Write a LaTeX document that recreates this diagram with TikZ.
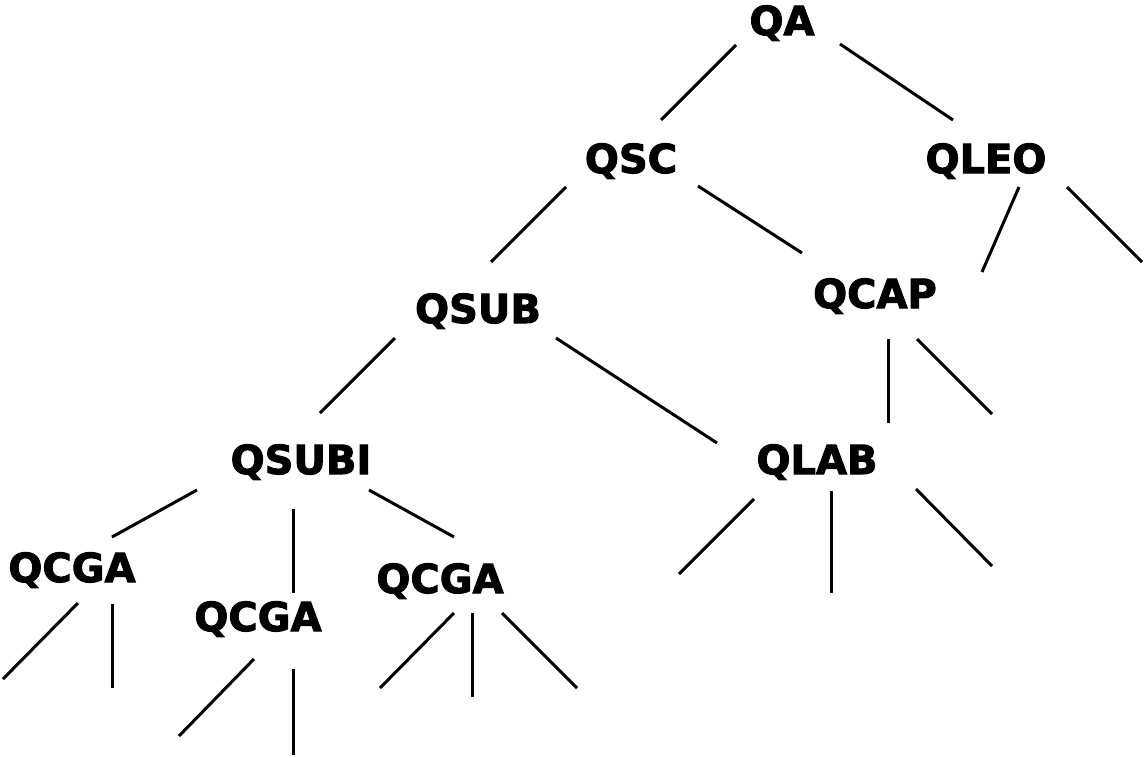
\documentclass[tikz,border=0pt]{standalone}
\usepackage{fontspec}
\setmainfont{DejaVu Sans}
\newfontfamily\heavyfont{DejaVu Sans Bold}[FakeBold=2.5]
\usetikzlibrary{calc}
\begin{document}
\begin{tikzpicture}[x=1pt,y=-1pt,
  lbl/.style={anchor=base, inner sep=0pt, font=\fontsize{40}{48}\heavyfont},
  edge/.style={line width=3pt}]
\useasboundingbox (0,0) rectangle (1144,758);
\fill[white] (0,0) rectangle (1144,758);
% nodes
\node[lbl] (QA)    at (782,35)  {QA};
\node[lbl] (QSC)   at (631,173) {QSC};
\node[lbl] (QLEO)  at (986,173) {QLEO};
\node[lbl] (QSUB)  at (478,323) {QSUB};
\node[lbl] (QCAP)  at (875,308) {QCAP};
\node[lbl] (QSUBI) at (301,474) {QSUBI};
\node[lbl] (QLAB)  at (817,474) {QLAB};
\node[lbl] (QCGAa) at (72,582)  {QCGA};
\node[lbl] (QCGAb) at (258,631) {QCGA};
\node[lbl] (QCGAc) at (440,593) {QCGA};
% free ends
\coordinate (f1) at (1142,262);
\coordinate (f2) at (888,423);
\coordinate (f3) at (992,414);
\coordinate (f4) at (679,574);
\coordinate (f5) at (831,593);
\coordinate (f6) at (992,566);
\coordinate (f7) at (3,679);
\coordinate (f8) at (112,688);
\coordinate (f9) at (179,736);
\coordinate (f10) at (293,755);
\coordinate (f11) at (380,688);
\coordinate (f12) at (472,697);
\coordinate (f13) at (577,688);
% connectors
\draw[edge] ($(QA.base)+(-46,10)$) -- ($(QSC.base)+(30,-53)$);
\draw[edge] ($(QA.base)+(58,9)$) -- ($(QLEO.base)+(-33,-53)$);
\draw[edge] ($(QSC.base)+(-65,14)$) -- ($(QSUB.base)+(13,-61)$);
\draw[edge] ($(QSC.base)+(67,13)$) -- ($(QCAP.base)+(-73,-55)$);
\draw[edge] ($(QLEO.base)+(33,14)$) -- ($(QCAP.base)+(107,-36)$);
\draw[edge] ($(QLEO.base)+(81,14)$) -- (f1);
\draw[edge] ($(QSUB.base)+(-83,15)$) -- ($(QSUBI.base)+(19,-61)$);
\draw[edge] ($(QSUB.base)+(78,15)$) -- ($(QLAB.base)+(-100,-31)$);
\draw[edge] ($(QCAP.base)+(13,31)$) -- (f2);
\draw[edge] ($(QCAP.base)+(42,31)$) -- (f3);
\draw[edge] ($(QLAB.base)+(-63,25)$) -- (f4);
\draw[edge] ($(QLAB.base)+(14,17)$) -- (f5);
\draw[edge] ($(QLAB.base)+(99,15)$) -- (f6);
\draw[edge] ($(QSUBI.base)+(-104,16)$) -- ($(QCGAa.base)+(40,-45)$);
\draw[edge] ($(QSUBI.base)+(-8,35)$) -- ($(QCGAb.base)+(35,-38)$);
\draw[edge] ($(QSUBI.base)+(68,16)$) -- ($(QCGAc.base)+(14,-56)$);
\draw[edge] ($(QCGAa.base)+(6,21)$) -- (f7);
\draw[edge] ($(QCGAa.base)+(40,22)$) -- (f8);
\draw[edge] ($(QCGAb.base)+(-4,28)$) -- (f9);
\draw[edge] ($(QCGAb.base)+(35,38)$) -- (f10);
\draw[edge] ($(QCGAc.base)+(14,20)$) -- (f11);
\draw[edge] ($(QCGAc.base)+(32,20)$) -- (f12);
\draw[edge] ($(QCGAc.base)+(62,20)$) -- (f13);
\end{tikzpicture}
\end{document}
